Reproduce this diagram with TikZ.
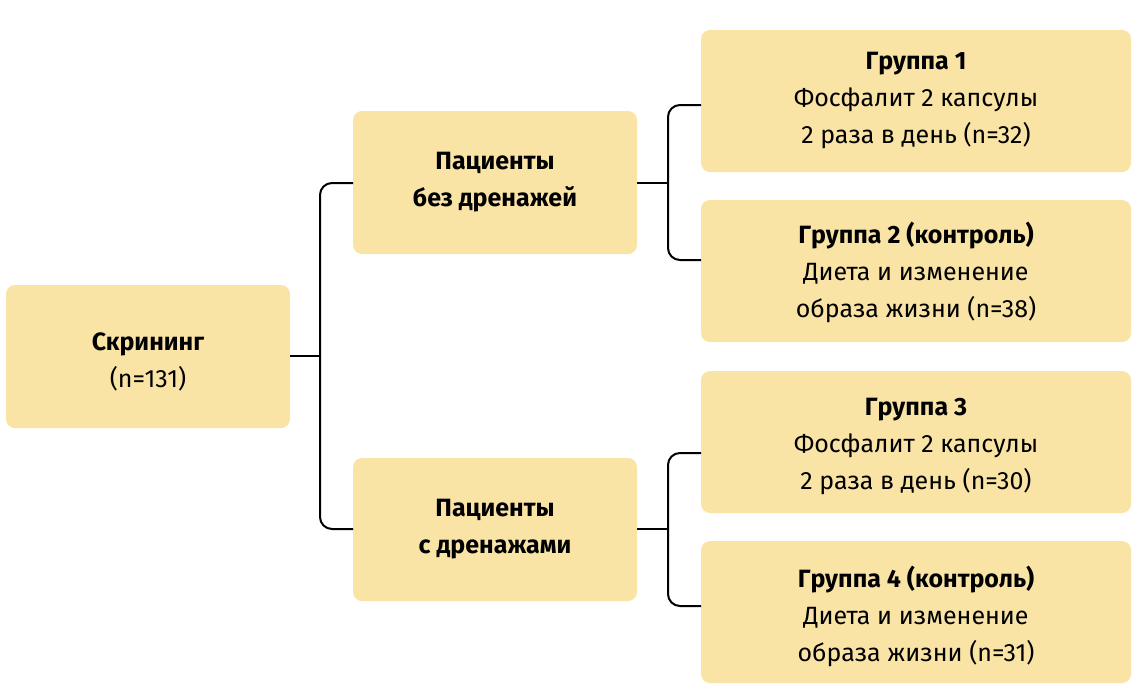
\documentclass[tikz,border=0pt]{standalone}
\usepackage{fontspec}
\setmainfont{Fira Sans}
\definecolor{boxc}{HTML}{F9E4A6}
\begin{document}
\begin{tikzpicture}[x=1pt,y=-1pt,
  bx/.style={fill=boxc,rounded corners=9pt,draw=none},
  ln/.style={line width=2pt,rounded corners=12pt},
  tx/.style={align=center,font=\fontsize{25}{37}\selectfont}]
\useasboundingbox (0,0) rectangle (1140,697);
\path[bx] (6,285) rectangle (290,428);
\path[bx] (353,111) rectangle (637,254);
\path[bx] (353,458) rectangle (637,601);
\path[bx] (701,30) rectangle (1131,172);
\path[bx] (701,200) rectangle (1131,342);
\path[bx] (701,371) rectangle (1131,513);
\path[bx] (701,541) rectangle (1131,683);
\node[tx] (s) at (148,362) {\textbf{Скрининг}\\(n=131)};
\node[tx] (p1) at (495,182) {\textbf{Пациенты}\\\textbf{без дренажей}};
\node[tx] (p2) at (495,529) {\textbf{Пациенты}\\\textbf{с дренажами}};
\node[tx] (g1) at (916,100) {\textbf{Группа 1}\\Фосфалит 2 капсулы\\2 раза в день (n=32)};
\node[tx] (g2) at (916,272) {\textbf{Группа 2 (контроль)}\\Диета и изменение\\образа жизни (n=38)};
\node[tx] (g3) at (916,446) {\textbf{Группа 3}\\Фосфалит 2 капсулы\\2 раза в день (n=30)};
\node[tx] (g4) at (916,616) {\textbf{Группа 4 (контроль)}\\Диета и изменение\\образа жизни (n=31)};
\coordinate (a) at (290,356);
\coordinate (b) at (320,356);
\draw[line width=2pt] (a) -- (b);
\draw[ln] (353,183) -- (320,183) -- (320,529) -- (353,529);
\draw[line width=2pt] (637,183) -- (668,183);
\draw[ln] (701,105) -- (668,105) -- (668,260) -- (701,260);
\draw[line width=2pt] (637,529) -- (668,529);
\draw[ln] (701,453) -- (668,453) -- (668,606) -- (701,606);
\end{tikzpicture}
\end{document}
